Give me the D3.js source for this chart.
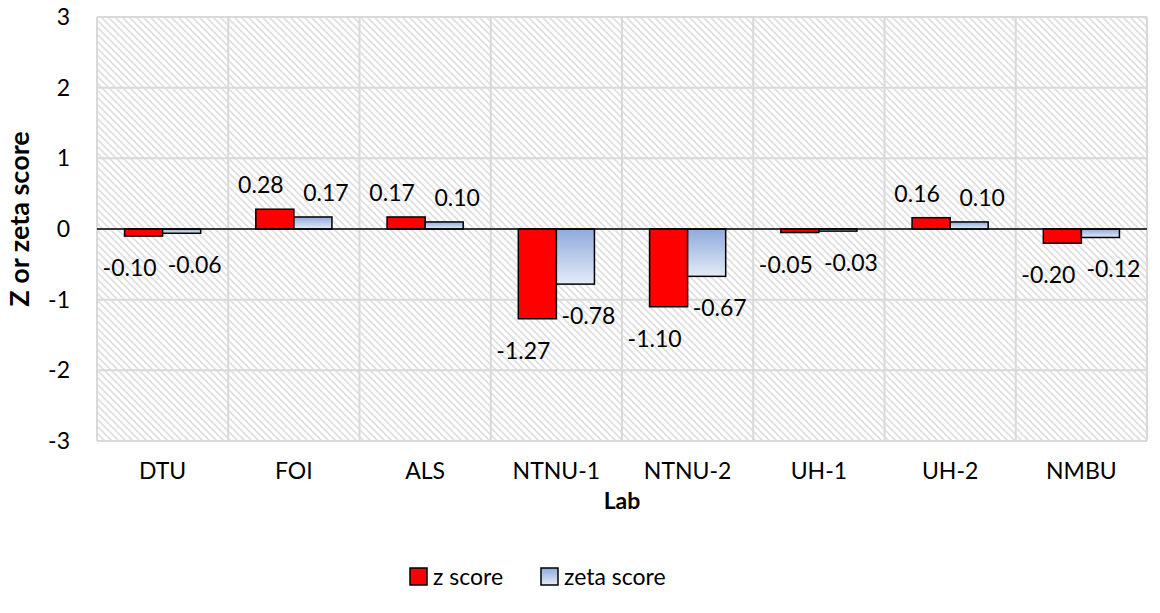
<!DOCTYPE html>
<html>
<head>
<meta charset="utf-8">
<script src="https://cdn.jsdelivr.net/npm/d3@7"></script>
<style>
  body { margin: 0; background: #fff; }
  svg text { font-family: Lato, "Open Sans", sans-serif; fill: #000; }
</style>
</head>
<body>
<div id="viz"></div>
<script>
const width = 1160;
const height = 613;
const margin = {top: 17, right: 10, bottom: 175, left: 97};

// data
const labs = ['DTU', 'FOI', 'ALS', 'NTNU-1', 'NTNU-2', 'UH-1', 'UH-2', 'NMBU'];
const zScores = [-0.10, 0.28, 0.17, -1.27, -1.10, -0.05, 0.16, -0.20];
const zetaScores = [-0.06, 0.17, 0.10, -0.78, -0.67, -0.03, 0.10, -0.12];
const seriesNames = ['z score', 'zeta score'];
const yTicks = [-3, -2, -1, 0, 1, 2, 3];

const rows = labs.map((lab, i) => ({lab, values: [zScores[i], zetaScores[i]]}));

const svg = d3.select('#viz')
  .append('svg')
  .attr('width', width)
  .attr('height', height)
  .attr('viewBox', `0 0 ${width} ${height}`);

const defs = svg.append('defs');

// diagonal hatch for the plot background
const hatch = defs.append('pattern')
  .attr('id', 'hatch')
  .attr('patternUnits', 'userSpaceOnUse')
  .attr('width', 7)
  .attr('height', 7);
hatch.append('rect').attr('width', 7).attr('height', 7).attr('fill', '#fff');
hatch.append('path')
  .attr('d', 'M-1,-1 L8,8 M-4,3 L4,11 M3,-4 L11,4')
  .attr('stroke', '#e0e0e0')
  .attr('stroke-width', 1.8);

const grad = defs.append('linearGradient')
  .attr('id', 'blueGrad')
  .attr('x1', 0).attr('y1', 0).attr('x2', 0).attr('y2', 1);
grad.append('stop').attr('offset', '0%').attr('stop-color', '#8faadc');
grad.append('stop').attr('offset', '100%').attr('stop-color', '#e4ebf7');

const fills = ['#ff0000', 'url(#blueGrad)'];

const x0 = d3.scaleBand()
  .domain(labs)
  .range([margin.left, width - margin.right - 3]);

const gap = x0.bandwidth() * 0.42;
const x1 = d3.scaleBand()
  .domain([0, 1])
  .range([gap / 2, x0.bandwidth() - gap / 2]);

const y = d3.scaleLinear()
  .domain([-3, 3])
  .range([height - margin.bottom + 3, margin.top]);

const plotLeft = x0.range()[0];
const plotRight = x0.range()[1];

// plot background
svg.append('rect')
  .attr('x', plotLeft)
  .attr('y', y(3))
  .attr('width', plotRight - plotLeft)
  .attr('height', y(-3) - y(3))
  .attr('fill', 'url(#hatch)');

// gridlines
svg.append('g')
  .selectAll('line')
  .data(yTicks)
  .join('line')
  .attr('x1', plotLeft)
  .attr('x2', plotRight)
  .attr('y1', d => y(d))
  .attr('y2', d => y(d))
  .attr('stroke', '#d9d9d9')
  .attr('stroke-width', 2);

const xBounds = labs.map(l => x0(l)).concat([plotRight]);
svg.append('g')
  .selectAll('line')
  .data(xBounds)
  .join('line')
  .attr('x1', d => d)
  .attr('x2', d => d)
  .attr('y1', y(3))
  .attr('y2', y(-3))
  .attr('stroke', '#d9d9d9')
  .attr('stroke-width', 2);

// y tick labels
svg.append('g')
  .selectAll('text')
  .data(yTicks)
  .join('text')
  .attr('x', 70)
  .attr('y', d => y(d))
  .attr('dy', '0.35em')
  .attr('text-anchor', 'end')
  .attr('font-size', 23)
  .text(d => d);

// bars
const groups = svg.append('g')
  .selectAll('g')
  .data(rows)
  .join('g')
  .attr('transform', d => `translate(${x0(d.lab)},0)`);

groups.selectAll('rect')
  .data(d => d.values.map((v, k) => ({v, k})))
  .join('rect')
  .attr('x', d => x1(d.k))
  .attr('y', d => y(Math.max(0, d.v)))
  .attr('width', x1.bandwidth())
  .attr('height', d => Math.abs(y(d.v) - y(0)))
  .attr('fill', d => fills[d.k])
  .attr('stroke', '#000')
  .attr('stroke-width', 1.5);

// data labels, nudged apart like the original
const labelShift = [-14, 13];
groups.selectAll('text')
  .data(d => d.values.map((v, k) => ({v, k})))
  .join('text')
  .attr('x', d => x1(d.k) + x1.bandwidth() / 2 + labelShift[d.k])
  .attr('y', d => d.v >= 0 ? y(d.v) - 16 : y(d.v) + 40)
  .attr('text-anchor', 'middle')
  .attr('font-size', 23)
  .text(d => d.v.toFixed(2));

// zero line
svg.append('line')
  .attr('x1', plotLeft)
  .attr('x2', plotRight)
  .attr('y1', y(0))
  .attr('y2', y(0))
  .attr('stroke', '#000')
  .attr('stroke-width', 1.5);

// x tick labels
svg.append('g')
  .selectAll('text')
  .data(labs)
  .join('text')
  .attr('x', d => x0(d) + x0.bandwidth() / 2)
  .attr('y', 479)
  .attr('text-anchor', 'middle')
  .attr('font-size', 23)
  .text(d => d);

// axis titles
svg.append('text')
  .attr('x', (plotLeft + plotRight) / 2)
  .attr('y', 509)
  .attr('text-anchor', 'middle')
  .attr('font-size', 23)
  .attr('font-weight', 'bold')
  .text('Lab');

svg.append('text')
  .attr('transform', `translate(29,${y(0) - 10}) rotate(-90)`)
  .attr('text-anchor', 'middle')
  .attr('font-size', 27)
  .attr('font-weight', 'bold')
  .text('Z or zeta score');

// legend
const legendX = [410, 541];
const legend = svg.append('g')
  .selectAll('g')
  .data(seriesNames)
  .join('g')
  .attr('transform', (d, i) => `translate(${legendX[i]},568)`);

legend.append('rect')
  .attr('width', 17)
  .attr('height', 17)
  .attr('fill', (d, i) => fills[i])
  .attr('stroke', '#000')
  .attr('stroke-width', 1.5);

legend.append('text')
  .attr('x', 23)
  .attr('y', 17)
  .attr('font-size', 23)
  .text(d => d);
</script>
</body>
</html>
